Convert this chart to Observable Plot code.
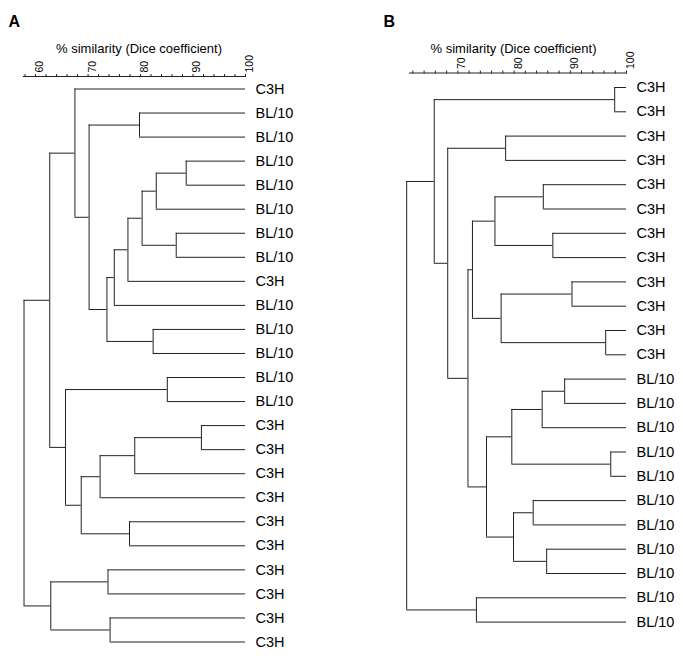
<!DOCTYPE html>
<html>
<head>
<meta charset="utf-8">
<script src="https://cdn.jsdelivr.net/npm/d3@7"></script>
<script src="https://cdn.jsdelivr.net/npm/@observablehq/plot@0.6"></script>
<style>
  html, body { margin: 0; padding: 0; background: white; }
  #wrap { position: relative; width: 683px; height: 662px; overflow: hidden; }
  #wrap svg { position: absolute; top: 0; }
</style>
</head>
<body>
<div id="wrap"></div>
<script>
// ---------- data ----------
const axisTitle = "% similarity (Dice coefficient)";

// Panel A leaves (top to bottom)
const leavesA = ["C3H","BL/10","BL/10","BL/10","BL/10","BL/10","BL/10","BL/10","C3H",
  "BL/10","BL/10","BL/10","BL/10","BL/10","C3H","C3H","C3H","C3H","C3H","C3H",
  "C3H","C3H","C3H","C3H"];
// Panel A merges: [child, child, % similarity]; new nodes numbered from leavesA.length
const mergesA = [
  [3, 4, 88.7],   // 24
  [24, 5, 83.0],  // 25
  [6, 7, 86.8],   // 26
  [25, 26, 80.3], // 27
  [27, 8, 77.6],  // 28
  [28, 9, 75.0],  // 29
  [10, 11, 82.4], // 30
  [29, 30, 73.6], // 31
  [1, 2, 79.8],   // 32
  [32, 31, 70.2], // 33
  [0, 33, 67.5],  // 34
  [14, 15, 91.6], // 35
  [35, 16, 78.9], // 36
  [36, 17, 72.3], // 37
  [18, 19, 77.9], // 38
  [37, 38, 68.7], // 39
  [12, 13, 85.1], // 40
  [40, 39, 65.7], // 41
  [34, 41, 62.7], // 42
  [20, 21, 73.8], // 43
  [22, 23, 74.2], // 44
  [43, 44, 62.9], // 45
  [42, 45, 57.8]  // 46
];

// Panel B leaves
const leavesB = ["C3H","C3H","C3H","C3H","C3H","C3H","C3H","C3H","C3H","C3H","C3H","C3H",
  "BL/10","BL/10","BL/10","BL/10","BL/10","BL/10","BL/10","BL/10","BL/10","BL/10","BL/10"];
const mergesB = [
  [0, 1, 97.9],   // 23
  [2, 3, 78.5],   // 24
  [4, 5, 85.2],   // 25
  [6, 7, 86.9],   // 26
  [25, 26, 76.6], // 27
  [8, 9, 90.3],   // 28
  [10, 11, 96.3], // 29
  [28, 29, 77.7], // 30
  [27, 30, 72.6], // 31
  [12, 13, 89.0], // 32
  [32, 14, 85.0], // 33
  [15, 16, 97.2], // 34
  [33, 34, 79.6], // 35
  [17, 18, 83.4], // 36
  [19, 20, 85.8], // 37
  [36, 37, 79.9], // 38
  [35, 38, 75.1], // 39
  [31, 39, 71.8], // 40
  [24, 40, 68.2], // 41
  [23, 41, 65.8], // 42
  [21, 22, 73.3], // 43
  [42, 43, 60.9]  // 44
];

const minorTicksA = d3.range(58, 101, 2);
const majorTicksA = [60, 70, 80, 90, 100];
const minorTicksB = d3.range(62, 101, 2);
const majorTicksB = [70, 80, 90, 100];

// ---------- layout ----------
function dendro(labels, merges) {
  const pos = labels.map((l, i) => ({x: 100, y: i}));
  const vert = [], horiz = [];
  for (const [a, b, s] of merges) {
    const pa = pos[a], pb = pos[b];
    vert.push({x: s, y1: pa.y, y2: pb.y});
    horiz.push({y: pa.y, x1: s, x2: pa.x});
    horiz.push({y: pb.y, x1: s, x2: pb.x});
    pos.push({x: s, y: (pa.y + pb.y) / 2});
  }
  return {vert, horiz, leaves: labels.map((label, i) => ({label, i}))};
}

const font = "Arial, 'Liberation Sans', Helvetica, sans-serif";
const lineColor = "#222";

function panel(cfg) {
  const d = dendro(cfg.labels, cfg.merges);
  return Plot.plot({
    width: cfg.width,
    height: 662,
    marginLeft: cfg.ml,
    marginRight: cfg.mr,
    marginTop: cfg.mt,
    marginBottom: 20,
    x: {domain: cfg.xdomain, axis: null},
    y: {domain: [0, cfg.labels.length - 1], range: cfg.yrange, axis: null},
    style: {fontFamily: font, background: "transparent", overflow: "visible", color: "black"},
    marks: [
      Plot.frame({anchor: "top", stroke: lineColor}),
      Plot.axisX(cfg.minor, {anchor: "top", tickSize: 3, tickFormat: () => "", label: null, stroke: lineColor}),
      Plot.text(cfg.major, {x: t => t, frameAnchor: "top", dy: -4, rotate: -90, textAnchor: "start", fontSize: 10.5, fill: "black"}),
      Plot.text([axisTitle], {frameAnchor: "top", dx: cfg.titleDx, dy: cfg.titleDy, fontSize: 13, fill: "black"}),
      Plot.text([cfg.letter], {frameAnchor: "top-left", dx: cfg.letterDx, dy: cfg.letterDy, textAnchor: "start", fontSize: 16, fontWeight: "bold", fill: "black"}),
      Plot.ruleX(d.vert, {x: "x", y1: "y1", y2: "y2", stroke: lineColor, strokeWidth: 1}),
      Plot.ruleY(d.horiz, {y: "y", x1: "x1", x2: "x2", stroke: lineColor, strokeWidth: 1}),
      Plot.text(d.leaves, {x: () => cfg.xdomain[1], y: "i", text: "label", dx: 10, textAnchor: "start", fontSize: 14.5, fill: "black"})
    ]
  });
}

const svgA = panel({
  labels: leavesA, merges: mergesA, width: 380, ml: 23, mr: 135, mt: 76,
  xdomain: [57.7, 100], yrange: [88.5, 641.5], minor: minorTicksA, major: majorTicksA,
  titleDx: 4.5, titleDy: -33, letter: "A", letterDx: -15, letterDy: -61
});
const svgB = panel({
  labels: leavesB, merges: mergesB, width: 303, ml: 29, mr: 57, mt: 72.5,
  xdomain: [61.4, 100], yrange: [87, 621.6], minor: minorTicksB, major: majorTicksB,
  titleDx: -4.5, titleDy: -29.5, letter: "B", letterDx: -26, letterDy: -57.5
});
svgA.style.left = "0px";
svgB.style.left = "380px";
const wrap = document.getElementById("wrap");
wrap.appendChild(svgA);
wrap.appendChild(svgB);
</script>
</body>
</html>
